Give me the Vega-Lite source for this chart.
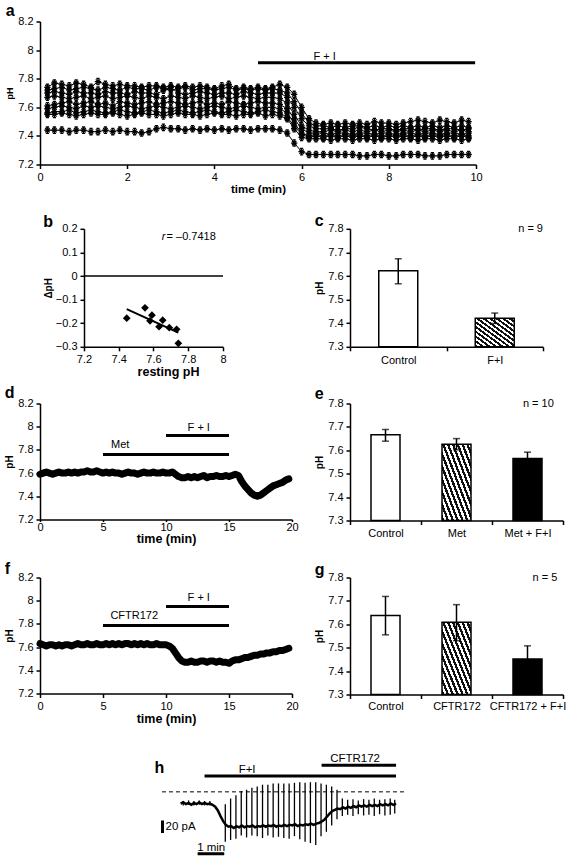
{
"$schema":"https://vega.github.io/schema/vega-lite/v6.json",
"background":"white",
"padding":{"left":4,"top":2.5,"right":0,"bottom":0},
"config":{"font":"Liberation Sans","view":{"stroke":null},
"axis":{"domainColor":"black","domainWidth":1.5,"tickColor":"black","tickWidth":1.5,"tickSize":4,"labelColor":"black","labelFontSize":11,"labelPadding":3,"titleColor":"black","grid":false,"titleFontWeight":"bold","labelFlush":false,"labelOverlap":false},
"title":{"fontSize":16,"fontWeight":"bold","anchor":"start","frame":"bounds","color":"black"},
"text":{"color":"black","fontSize":11}},
"datasets":{
"A":[
{"t":0.17,"a":7.74,"b":7.72,"c":7.70,"d":7.67,"e":7.61,"f":7.59,"g":7.56,"h":7.55,"i":7.44},
{"t":0.33,"a":7.77,"b":7.73,"c":7.71,"d":7.68,"e":7.62,"f":7.60,"g":7.57,"h":7.55,"i":7.44},
{"t":0.5,"a":7.76,"b":7.74,"c":7.70,"d":7.67,"e":7.63,"f":7.61,"g":7.57,"h":7.56,"i":7.44},
{"t":0.67,"a":7.75,"b":7.72,"c":7.69,"d":7.66,"e":7.64,"f":7.60,"g":7.58,"h":7.55,"i":7.43},
{"t":0.83,"a":7.77,"b":7.73,"c":7.71,"d":7.67,"e":7.62,"f":7.59,"g":7.56,"h":7.54,"i":7.44},
{"t":1,"a":7.76,"b":7.74,"c":7.70,"d":7.68,"e":7.63,"f":7.61,"g":7.57,"h":7.55,"i":7.44},
{"t":1.17,"a":7.74,"b":7.73,"c":7.70,"d":7.66,"e":7.64,"f":7.60,"g":7.58,"h":7.56,"i":7.43},
{"t":1.33,"a":7.78,"b":7.72,"c":7.69,"d":7.67,"e":7.62,"f":7.61,"g":7.57,"h":7.55,"i":7.43},
{"t":1.5,"a":7.76,"b":7.74,"c":7.71,"d":7.68,"e":7.63,"f":7.60,"g":7.56,"h":7.55,"i":7.44},
{"t":1.67,"a":7.75,"b":7.73,"c":7.70,"d":7.66,"e":7.61,"f":7.59,"g":7.57,"h":7.56,"i":7.43},
{"t":1.83,"a":7.76,"b":7.72,"c":7.70,"d":7.67,"e":7.64,"f":7.60,"g":7.58,"h":7.55,"i":7.44},
{"t":2,"a":7.75,"b":7.74,"c":7.69,"d":7.68,"e":7.63,"f":7.61,"g":7.57,"h":7.54,"i":7.43},
{"t":2.17,"a":7.75,"b":7.73,"c":7.71,"d":7.67,"e":7.62,"f":7.60,"g":7.56,"h":7.55,"i":7.43},
{"t":2.33,"a":7.74,"b":7.73,"c":7.70,"d":7.66,"e":7.63,"f":7.59,"g":7.57,"h":7.56,"i":7.42},
{"t":2.5,"a":7.75,"b":7.72,"c":7.70,"d":7.68,"e":7.64,"f":7.60,"g":7.58,"h":7.55,"i":7.43},
{"t":2.67,"a":7.75,"b":7.74,"c":7.69,"d":7.67,"e":7.62,"f":7.61,"g":7.57,"h":7.55,"i":7.45},
{"t":2.83,"a":7.74,"b":7.73,"c":7.72,"d":7.66,"e":7.63,"f":7.60,"g":7.56,"h":7.54,"i":7.46},
{"t":3,"a":7.75,"b":7.72,"c":7.74,"d":7.68,"e":7.64,"f":7.59,"g":7.57,"h":7.55,"i":7.45},
{"t":3.17,"a":7.74,"b":7.73,"c":7.70,"d":7.67,"e":7.63,"f":7.60,"g":7.58,"h":7.56,"i":7.45},
{"t":3.33,"a":7.75,"b":7.74,"c":7.69,"d":7.66,"e":7.62,"f":7.61,"g":7.57,"h":7.55,"i":7.44},
{"t":3.5,"a":7.74,"b":7.72,"c":7.70,"d":7.68,"e":7.63,"f":7.60,"g":7.56,"h":7.55,"i":7.45},
{"t":3.67,"a":7.75,"b":7.73,"c":7.71,"d":7.67,"e":7.64,"f":7.59,"g":7.57,"h":7.54,"i":7.44},
{"t":3.83,"a":7.74,"b":7.73,"c":7.70,"d":7.66,"e":7.62,"f":7.60,"g":7.58,"h":7.55,"i":7.45},
{"t":4,"a":7.73,"b":7.72,"c":7.69,"d":7.67,"e":7.63,"f":7.61,"g":7.57,"h":7.56,"i":7.44},
{"t":4.17,"a":7.75,"b":7.73,"c":7.70,"d":7.68,"e":7.62,"f":7.60,"g":7.56,"h":7.55,"i":7.45},
{"t":4.33,"a":7.76,"b":7.74,"c":7.70,"d":7.66,"e":7.64,"f":7.59,"g":7.57,"h":7.55,"i":7.44},
{"t":4.5,"a":7.73,"b":7.72,"c":7.69,"d":7.67,"e":7.63,"f":7.60,"g":7.58,"h":7.54,"i":7.45},
{"t":4.67,"a":7.74,"b":7.73,"c":7.71,"d":7.68,"e":7.62,"f":7.61,"g":7.57,"h":7.55,"i":7.45},
{"t":4.83,"a":7.73,"b":7.72,"c":7.70,"d":7.67,"e":7.63,"f":7.60,"g":7.56,"h":7.55,"i":7.44},
{"t":5,"a":7.74,"b":7.73,"c":7.69,"d":7.66,"e":7.64,"f":7.59,"g":7.57,"h":7.56,"i":7.45},
{"t":5.17,"a":7.73,"b":7.72,"c":7.70,"d":7.67,"e":7.63,"f":7.60,"g":7.58,"h":7.54,"i":7.45},
{"t":5.33,"a":7.74,"b":7.73,"c":7.70,"d":7.67,"e":7.63,"f":7.60,"g":7.57,"h":7.55,"i":7.45},
{"t":5.5,"a":7.76,"b":7.72,"c":7.70,"d":7.66,"e":7.62,"f":7.59,"g":7.56,"h":7.54,"i":7.44},
{"t":5.67,"a":7.74,"b":7.70,"c":7.67,"d":7.63,"e":7.59,"f":7.56,"g":7.53,"h":7.52,"i":7.42},
{"t":5.83,"a":7.69,"b":7.64,"c":7.60,"d":7.55,"e":7.52,"f":7.49,"g":7.47,"h":7.45,"i":7.35},
{"t":6,"a":7.60,"b":7.56,"c":7.52,"d":7.47,"e":7.45,"f":7.42,"g":7.41,"h":7.39,"i":7.29},
{"t":6.17,"a":7.52,"b":7.49,"c":7.47,"d":7.44,"e":7.42,"f":7.40,"g":7.39,"h":7.38,"i":7.27},
{"t":6.33,"a":7.49,"b":7.47,"c":7.45,"d":7.43,"e":7.42,"f":7.41,"g":7.40,"h":7.38,"i":7.27},
{"t":6.5,"a":7.48,"b":7.47,"c":7.45,"d":7.43,"e":7.42,"f":7.40,"g":7.39,"h":7.38,"i":7.27},
{"t":6.67,"a":7.49,"b":7.46,"c":7.45,"d":7.44,"e":7.41,"f":7.41,"g":7.40,"h":7.37,"i":7.27},
{"t":6.83,"a":7.48,"b":7.47,"c":7.44,"d":7.43,"e":7.42,"f":7.40,"g":7.39,"h":7.38,"i":7.27},
{"t":7,"a":7.49,"b":7.46,"c":7.45,"d":7.44,"e":7.42,"f":7.41,"g":7.40,"h":7.38,"i":7.27},
{"t":7.17,"a":7.48,"b":7.47,"c":7.45,"d":7.43,"e":7.41,"f":7.40,"g":7.39,"h":7.37,"i":7.27},
{"t":7.33,"a":7.49,"b":7.47,"c":7.46,"d":7.44,"e":7.42,"f":7.41,"g":7.40,"h":7.38,"i":7.26},
{"t":7.5,"a":7.48,"b":7.46,"c":7.45,"d":7.43,"e":7.42,"f":7.40,"g":7.39,"h":7.38,"i":7.26},
{"t":7.67,"a":7.50,"b":7.47,"c":7.44,"d":7.44,"e":7.41,"f":7.41,"g":7.40,"h":7.37,"i":7.27},
{"t":7.83,"a":7.49,"b":7.46,"c":7.45,"d":7.43,"e":7.42,"f":7.40,"g":7.39,"h":7.38,"i":7.27},
{"t":8,"a":7.49,"b":7.47,"c":7.45,"d":7.44,"e":7.42,"f":7.41,"g":7.40,"h":7.38,"i":7.26},
{"t":8.17,"a":7.48,"b":7.46,"c":7.44,"d":7.43,"e":7.41,"f":7.40,"g":7.39,"h":7.37,"i":7.26},
{"t":8.33,"a":7.49,"b":7.47,"c":7.45,"d":7.44,"e":7.42,"f":7.41,"g":7.40,"h":7.38,"i":7.27},
{"t":8.5,"a":7.50,"b":7.46,"c":7.45,"d":7.43,"e":7.42,"f":7.40,"g":7.39,"h":7.38,"i":7.27},
{"t":8.67,"a":7.51,"b":7.47,"c":7.44,"d":7.44,"e":7.41,"f":7.41,"g":7.40,"h":7.37,"i":7.27},
{"t":8.83,"a":7.50,"b":7.46,"c":7.45,"d":7.43,"e":7.42,"f":7.40,"g":7.39,"h":7.38,"i":7.26},
{"t":9,"a":7.49,"b":7.47,"c":7.45,"d":7.44,"e":7.42,"f":7.41,"g":7.40,"h":7.38,"i":7.26},
{"t":9.17,"a":7.51,"b":7.46,"c":7.44,"d":7.43,"e":7.41,"f":7.40,"g":7.39,"h":7.37,"i":7.26},
{"t":9.33,"a":7.50,"b":7.47,"c":7.45,"d":7.44,"e":7.42,"f":7.41,"g":7.40,"h":7.38,"i":7.27},
{"t":9.5,"a":7.49,"b":7.46,"c":7.45,"d":7.43,"e":7.42,"f":7.40,"g":7.39,"h":7.38,"i":7.27},
{"t":9.67,"a":7.51,"b":7.47,"c":7.44,"d":7.44,"e":7.41,"f":7.41,"g":7.40,"h":7.37,"i":7.27},
{"t":9.83,"a":7.50,"b":7.46,"c":7.45,"d":7.43,"e":7.42,"f":7.40,"g":7.39,"h":7.38,"i":7.27}
],
"B":[{"x":7.446,"y":-0.179},{"x":7.551,"y":-0.135},{"x":7.580,"y":-0.190},{"x":7.591,"y":-0.166},{"x":7.632,"y":-0.215},{"x":7.653,"y":-0.187},{"x":7.691,"y":-0.219},{"x":7.733,"y":-0.226},{"x":7.743,"y":-0.285}],
"C":[{"g":"Control","v":7.622,"lo":7.567,"hi":7.673},{"g":"F+I","v":7.421,"lo":7.399,"hi":7.443}],
"E":[{"g":"Control","v":7.666,"lo":7.639,"hi":7.689},{"g":"Met","v":7.626,"lo":7.602,"hi":7.650},{"g":"Met + F+I","v":7.565,"lo":7.539,"hi":7.592}],
"G":[{"g":"Control","v":7.638,"lo":7.555,"hi":7.719},{"g":"CFTR172","v":7.609,"lo":7.530,"hi":7.684},{"g":"CFTR172 + F+I","v":7.452,"lo":7.395,"hi":7.508}],
"D":[
{"t":0,"v":7.59},{"t":0.25,"v":7.60},{"t":0.5,"v":7.61},{"t":0.75,"v":7.60},{"t":1,"v":7.59},{"t":1.25,"v":7.60},{"t":1.5,"v":7.61},{"t":1.75,"v":7.60},
{"t":2,"v":7.60},{"t":2.25,"v":7.61},{"t":2.5,"v":7.60},{"t":2.75,"v":7.61},{"t":3,"v":7.60},{"t":3.25,"v":7.61},{"t":3.5,"v":7.61},{"t":3.75,"v":7.62},
{"t":4,"v":7.61},{"t":4.25,"v":7.61},{"t":4.5,"v":7.62},{"t":4.75,"v":7.61},{"t":5,"v":7.60},{"t":5.25,"v":7.61},{"t":5.5,"v":7.60},{"t":5.75,"v":7.61},
{"t":6,"v":7.60},{"t":6.25,"v":7.60},{"t":6.5,"v":7.59},{"t":6.75,"v":7.60},{"t":7,"v":7.61},{"t":7.25,"v":7.60},{"t":7.5,"v":7.60},{"t":7.75,"v":7.59},
{"t":8,"v":7.60},{"t":8.25,"v":7.61},{"t":8.5,"v":7.60},{"t":8.75,"v":7.60},{"t":9,"v":7.61},{"t":9.25,"v":7.60},{"t":9.5,"v":7.60},{"t":9.75,"v":7.61},
{"t":10,"v":7.60},{"t":10.25,"v":7.60},{"t":10.5,"v":7.61},{"t":10.75,"v":7.59},{"t":11,"v":7.57},{"t":11.25,"v":7.56},{"t":11.5,"v":7.56},{"t":11.75,"v":7.57},
{"t":12,"v":7.56},{"t":12.25,"v":7.57},{"t":12.5,"v":7.56},{"t":12.75,"v":7.57},{"t":13,"v":7.58},{"t":13.25,"v":7.56},{"t":13.5,"v":7.57},{"t":13.75,"v":7.57},
{"t":14,"v":7.58},{"t":14.25,"v":7.57},{"t":14.5,"v":7.57},{"t":14.75,"v":7.58},{"t":15,"v":7.57},{"t":15.25,"v":7.58},{"t":15.5,"v":7.59},{"t":15.75,"v":7.58},
{"t":16,"v":7.53},{"t":16.25,"v":7.49},{"t":16.5,"v":7.46},{"t":16.75,"v":7.43},{"t":17,"v":7.41},{"t":17.25,"v":7.40},{"t":17.5,"v":7.41},{"t":17.75,"v":7.43},
{"t":18,"v":7.45},{"t":18.25,"v":7.47},{"t":18.5,"v":7.49},{"t":18.75,"v":7.50},{"t":19,"v":7.51},{"t":19.25,"v":7.52},{"t":19.5,"v":7.54},{"t":19.75,"v":7.55}
],
"F":[
{"t":0,"v":7.63},{"t":0.25,"v":7.62},{"t":0.5,"v":7.61},{"t":0.75,"v":7.62},{"t":1,"v":7.62},{"t":1.25,"v":7.61},{"t":1.5,"v":7.62},{"t":1.75,"v":7.61},
{"t":2,"v":7.62},{"t":2.25,"v":7.62},{"t":2.5,"v":7.61},{"t":2.75,"v":7.62},{"t":3,"v":7.63},{"t":3.25,"v":7.62},{"t":3.5,"v":7.62},{"t":3.75,"v":7.63},
{"t":4,"v":7.62},{"t":4.25,"v":7.62},{"t":4.5,"v":7.63},{"t":4.75,"v":7.62},{"t":5,"v":7.62},{"t":5.25,"v":7.63},{"t":5.5,"v":7.62},{"t":5.75,"v":7.63},
{"t":6,"v":7.62},{"t":6.25,"v":7.63},{"t":6.5,"v":7.62},{"t":6.75,"v":7.63},{"t":7,"v":7.63},{"t":7.25,"v":7.62},{"t":7.5,"v":7.63},{"t":7.75,"v":7.62},
{"t":8,"v":7.63},{"t":8.25,"v":7.62},{"t":8.5,"v":7.63},{"t":8.75,"v":7.62},{"t":9,"v":7.62},{"t":9.25,"v":7.63},{"t":9.5,"v":7.62},{"t":9.75,"v":7.62},
{"t":10,"v":7.62},{"t":10.25,"v":7.61},{"t":10.5,"v":7.59},{"t":10.75,"v":7.55},{"t":11,"v":7.51},{"t":11.25,"v":7.48},{"t":11.5,"v":7.47},{"t":11.75,"v":7.47},
{"t":12,"v":7.48},{"t":12.25,"v":7.47},{"t":12.5,"v":7.47},{"t":12.75,"v":7.48},{"t":13,"v":7.48},{"t":13.25,"v":7.47},{"t":13.5,"v":7.48},{"t":13.75,"v":7.48},
{"t":14,"v":7.47},{"t":14.25,"v":7.48},{"t":14.5,"v":7.47},{"t":14.75,"v":7.47},{"t":15,"v":7.46},{"t":15.25,"v":7.48},{"t":15.5,"v":7.49},{"t":15.75,"v":7.49},
{"t":16,"v":7.50},{"t":16.25,"v":7.51},{"t":16.5,"v":7.51},{"t":16.75,"v":7.52},{"t":17,"v":7.53},{"t":17.25,"v":7.53},{"t":17.5,"v":7.54},{"t":17.75,"v":7.54},
{"t":18,"v":7.55},{"t":18.25,"v":7.55},{"t":18.5,"v":7.56},{"t":18.75,"v":7.56},{"t":19,"v":7.57},{"t":19.25,"v":7.57},{"t":19.5,"v":7.58},{"t":19.75,"v":7.59}
],
"HL":[
{"t":0,"i":0},{"t":0.1,"i":2},{"t":0.2,"i":-1},{"t":0.3,"i":1},{"t":0.4,"i":-2},{"t":0.5,"i":1},{"t":0.6,"i":-1},{"t":0.7,"i":2},{"t":0.8,"i":-1},{"t":0.9,"i":1},
{"t":1.0,"i":-1},{"t":1.1,"i":0},{"t":1.2,"i":-2},{"t":1.3,"i":-5},{"t":1.4,"i":-11},{"t":1.5,"i":-20},{"t":1.6,"i":-28},{"t":1.7,"i":-34},{"t":1.8,"i":-37},{"t":1.9,"i":-36},
{"t":2.0,"i":-39},{"t":2.1,"i":-36},{"t":2.2,"i":-38},{"t":2.3,"i":-35},{"t":2.4,"i":-38},{"t":2.5,"i":-36},{"t":2.6,"i":-37},{"t":2.7,"i":-35},{"t":2.8,"i":-38},{"t":2.9,"i":-36},
{"t":3.0,"i":-37},{"t":3.1,"i":-35},{"t":3.2,"i":-37},{"t":3.3,"i":-35},{"t":3.4,"i":-36},{"t":3.5,"i":-34},{"t":3.6,"i":-37},{"t":3.7,"i":-35},{"t":3.8,"i":-36},{"t":3.9,"i":-34},
{"t":4.0,"i":-36},{"t":4.1,"i":-34},{"t":4.2,"i":-35},{"t":4.3,"i":-33},{"t":4.4,"i":-36},{"t":4.5,"i":-34},{"t":4.6,"i":-35},{"t":4.7,"i":-33},{"t":4.8,"i":-34},{"t":4.9,"i":-32},
{"t":5.0,"i":-34},{"t":5.1,"i":-32},{"t":5.2,"i":-31},{"t":5.3,"i":-29},{"t":5.4,"i":-26},{"t":5.5,"i":-21},{"t":5.6,"i":-16},{"t":5.7,"i":-12},{"t":5.8,"i":-10},{"t":5.9,"i":-8},
{"t":6.0,"i":-9},{"t":6.1,"i":-6},{"t":6.2,"i":-8},{"t":6.3,"i":-5},{"t":6.4,"i":-7},{"t":6.5,"i":-4},{"t":6.6,"i":-6},{"t":6.7,"i":-3},{"t":6.8,"i":-5},{"t":6.9,"i":-3},
{"t":7.0,"i":-5},{"t":7.1,"i":-2},{"t":7.2,"i":-4},{"t":7.3,"i":-2},{"t":7.4,"i":-4},{"t":7.5,"i":-1},{"t":7.6,"i":-3},{"t":7.7,"i":-1},{"t":7.8,"i":-3},{"t":7.9,"i":0},
{"t":8.0,"i":-2},{"t":8.1,"i":0}
],
"HS":[
{"t":0.1,"lo":-3,"hi":4},{"t":0.3,"lo":-2,"hi":5},{"t":0.5,"lo":-3,"hi":4},{"t":0.7,"lo":-2,"hi":5},{"t":0.9,"lo":-3,"hi":4},{"t":1.1,"lo":-3,"hi":4},
{"t":1.68,"lo":-61,"hi":-1},{"t":1.88,"lo":-58,"hi":8},{"t":2.08,"lo":-56,"hi":13},{"t":2.28,"lo":-51,"hi":20},{"t":2.48,"lo":-54,"hi":22},{"t":2.68,"lo":-51,"hi":25},
{"t":2.88,"lo":-52,"hi":27},{"t":3.08,"lo":-55,"hi":30},{"t":3.28,"lo":-51,"hi":30},{"t":3.48,"lo":-54,"hi":32},{"t":3.68,"lo":-53,"hi":32},{"t":3.88,"lo":-55,"hi":32},
{"t":4.08,"lo":-56,"hi":32},{"t":4.28,"lo":-52,"hi":33},{"t":4.48,"lo":-57,"hi":34},{"t":4.68,"lo":-61,"hi":33},{"t":4.88,"lo":-63,"hi":34},{"t":5.08,"lo":-66,"hi":34},
{"t":5.28,"lo":-52,"hi":32},{"t":5.48,"lo":-45,"hi":30},{"t":5.68,"lo":-35,"hi":27},{"t":5.88,"lo":-25,"hi":22},
{"t":6.08,"lo":-20,"hi":8},{"t":6.28,"lo":-18,"hi":6},{"t":6.48,"lo":-20,"hi":7},{"t":6.68,"lo":-17,"hi":5},{"t":6.88,"lo":-19,"hi":7},{"t":7.08,"lo":-18,"hi":6},
{"t":7.28,"lo":-20,"hi":8},{"t":7.48,"lo":-17,"hi":6},{"t":7.68,"lo":-19,"hi":7},{"t":7.88,"lo":-18,"hi":8},{"t":8.05,"lo":-16,"hi":6}
]
},
"spacing":17.3,
"vconcat":[
{
"width":436,"height":143,
"title":{"text":"a","offset":-3.7},
"layer":[
{"data":{"name":"A"},"transform":[{"fold":["a","b","c","d","e","f","g","h","i"],"as":["s","v"]}],
"mark":{"type":"line","color":"black","strokeWidth":1},
"encoding":{"x":{"field":"t","type":"quantitative","scale":{"domain":[0,10]},"axis":{"values":[0,2,4,6,8,10],"tickCount":20,"format":"~g","title":"time (min)","titleFontSize":11.5,"titlePadding":1}},
"y":{"field":"v","type":"quantitative","scale":{"domain":[7.2,8.2]},"axis":{"values":[7.2,7.4,7.6,7.8,8,8.2],"tickCount":20,"format":"~g","title":"pH","titleFontSize":9,"titlePadding":3}},
"detail":{"field":"s"}}},
{"data":{"name":"A"},"transform":[{"fold":["a","b","c","d","e","f","g","h","i"],"as":["s","v"]}],
"mark":{"type":"point","shape":"M-1,0L1,0M0,-1L0,1M-0.7,-0.7L0.7,0.7M-0.7,0.7L0.7,-0.7M-0.5,-1L0.5,-1M-0.5,1L0.5,1","size":40,"filled":false,"color":"black","strokeWidth":1.3,"opacity":1},
"encoding":{"x":{"field":"t","type":"quantitative"},"y":{"field":"v","type":"quantitative"},"detail":{"field":"s"}}},
{"data":{"values":[{"x1":5,"x2":9.98,"y":7.911}]},"mark":{"type":"rule","color":"black","strokeWidth":3},
"encoding":{"x":{"field":"x1","type":"quantitative"},"x2":{"field":"x2"},"y":{"field":"y","type":"quantitative"}}},
{"data":{"values":[{"x":6.53,"y":7.955,"s":"F + I"}]},"mark":{"type":"text","fontSize":11},
"encoding":{"x":{"field":"x","type":"quantitative"},"y":{"field":"y","type":"quantitative"},"text":{"field":"s"}}}
]
},
{
"spacing":21.5,
"vconcat":[
{
"spacing":14.7,
"vconcat":[
{
"spacing":5.7,
"vconcat":[
{
"spacing":0,
"hconcat":[
{"width":3,"height":1,"data":{"values":[{}]},"mark":{"type":"text","text":""},"encoding":{}},
{
"width":139,"height":118,
"title":{"text":"b","offset":-7},
"data":{"values":[{}]},
"layer":[
{"mark":{"type":"rule","color":"black","strokeWidth":1.5},"encoding":{"y":{"datum":0,"type":"quantitative","scale":{"domain":[-0.3,0.2]},"axis":{"values":[-0.3,-0.2,-0.1,0,0.1,0.2],"tickCount":20,"format":"~g","title":"ΔpH","titleFontSize":10,"titlePadding":2}}}},
{"data":{"name":"B"},"mark":{"type":"point","shape":"diamond","filled":true,"color":"black","size":60,"opacity":1},
"encoding":{"x":{"field":"x","type":"quantitative","scale":{"domain":[7.2,8]},"axis":{"values":[7.2,7.4,7.6,7.8,8],"tickCount":20,"format":"~g","title":"resting pH","titleFontSize":12.5,"titlePadding":1,"titleX":84}},"y":{"field":"y","type":"quantitative"}}},
{"data":{"name":"B"},"transform":[{"regression":"y","on":"x"}],"mark":{"type":"line","color":"black","strokeWidth":2},
"encoding":{"x":{"field":"x","type":"quantitative"},"y":{"field":"y","type":"quantitative"}}},
{"mark":{"type":"text","fontStyle":"italic","align":"right","fontSize":11},"encoding":{"x":{"datum":7.668},"y":{"datum":0.166},"text":{"value":"r"}}},
{"mark":{"type":"text","align":"left","fontSize":11},"encoding":{"x":{"datum":7.675},"y":{"datum":0.166},"text":{"value":"= –0.7418"}}}
]
},
{"width":87,"height":1,"data":{"values":[{}]},"mark":{"type":"text","text":""},"encoding":{}},
{
"width":193,"height":118,
"title":{"text":"c","offset":-6},
"data":{"name":"C"},
"layer":[
{"mark":{"type":"bar","stroke":"black","strokeWidth":1.5,"size":39},
"encoding":{"x":{"field":"g","type":"nominal","sort":null,"scale":{"paddingInner":0,"paddingOuter":0},"axis":{"title":null,"labelAngle":0,"tickBand":"extent","labelPadding":4}},
"y":{"field":"v","type":"quantitative","scale":{"domain":[7.3,7.8],"zero":false},"axis":{"values":[7.3,7.4,7.5,7.6,7.7,7.8],"tickCount":20,"format":"~g","title":"pH","titleFontSize":10,"titlePadding":3}},
"y2":{"datum":7.3},
"fill":{"condition":[{"test":"datum.g==='F+I'","value":{"gradient":"linear","x1":0,"y1":1,"x2":1,"y2":0,"stops":[{"offset":0,"color":"#111"},{"offset":0.0417,"color":"#111"},{"offset":0.0417,"color":"#fff"},{"offset":0.0833,"color":"#fff"},{"offset":0.0833,"color":"#111"},{"offset":0.125,"color":"#111"},{"offset":0.125,"color":"#fff"},{"offset":0.1667,"color":"#fff"},{"offset":0.1667,"color":"#111"},{"offset":0.2083,"color":"#111"},{"offset":0.2083,"color":"#fff"},{"offset":0.25,"color":"#fff"},{"offset":0.25,"color":"#111"},{"offset":0.2917,"color":"#111"},{"offset":0.2917,"color":"#fff"},{"offset":0.3333,"color":"#fff"},{"offset":0.3333,"color":"#111"},{"offset":0.375,"color":"#111"},{"offset":0.375,"color":"#fff"},{"offset":0.4167,"color":"#fff"},{"offset":0.4167,"color":"#111"},{"offset":0.4583,"color":"#111"},{"offset":0.4583,"color":"#fff"},{"offset":0.5,"color":"#fff"},{"offset":0.5,"color":"#111"},{"offset":0.5417,"color":"#111"},{"offset":0.5417,"color":"#fff"},{"offset":0.5833,"color":"#fff"},{"offset":0.5833,"color":"#111"},{"offset":0.625,"color":"#111"},{"offset":0.625,"color":"#fff"},{"offset":0.6667,"color":"#fff"},{"offset":0.6667,"color":"#111"},{"offset":0.7083,"color":"#111"},{"offset":0.7083,"color":"#fff"},{"offset":0.75,"color":"#fff"},{"offset":0.75,"color":"#111"},{"offset":0.7917,"color":"#111"},{"offset":0.7917,"color":"#fff"},{"offset":0.8333,"color":"#fff"},{"offset":0.8333,"color":"#111"},{"offset":0.875,"color":"#111"},{"offset":0.875,"color":"#fff"},{"offset":0.9167,"color":"#fff"},{"offset":0.9167,"color":"#111"},{"offset":0.9583,"color":"#111"},{"offset":0.9583,"color":"#fff"},{"offset":1,"color":"#fff"}]}}],"value":"white"}}},
{"mark":{"type":"rule","color":"black","strokeWidth":1.5},"encoding":{"x":{"field":"g","type":"nominal","sort":null},"y":{"field":"lo","type":"quantitative"},"y2":{"field":"hi"}}},
{"mark":{"type":"tick","color":"black","thickness":1.5,"size":7},"encoding":{"x":{"field":"g","type":"nominal","sort":null},"y":{"field":"lo","type":"quantitative"}}},
{"mark":{"type":"tick","color":"black","thickness":1.5,"size":7},"encoding":{"x":{"field":"g","type":"nominal","sort":null},"y":{"field":"hi","type":"quantitative"}}},
{"transform":[{"filter":"datum.g==='F+I'"}],"mark":{"type":"text","align":"right","baseline":"middle","fontSize":11},"encoding":{"x":{"field":"g","type":"nominal","sort":null,"bandPosition":1},"y":{"datum":7.8},"text":{"value":"n = 9"}}}
]
}
]
},
{
"spacing":15,
"hconcat":[
{
"width":252,"height":116,
"title":{"text":"d","offset":-3.7},
"layer":[
{"data":{"name":"D"},"mark":{"type":"line","color":"black","strokeWidth":7,"strokeJoin":"round","strokeCap":"round"},
"encoding":{"x":{"field":"t","type":"quantitative","scale":{"domain":[0,20]},"axis":{"values":[0,5,10,15,20],"tickCount":20,"format":"~g","tickSize":2,"labelPadding":0,"title":"time (min)","titleFontSize":12.5,"titlePadding":0}},
"y":{"field":"v","type":"quantitative","scale":{"domain":[7.2,8.2]},"axis":{"values":[7.2,7.4,7.6,7.8,8,8.2],"tickCount":20,"format":"~g","title":"pH","titleFontSize":10,"titlePadding":3}}}},
{"data":{"values":[{"x1":5,"x2":15,"y":7.76},{"x1":10,"x2":15,"y":7.924}]},"mark":{"type":"rule","color":"black","strokeWidth":3},
"encoding":{"x":{"field":"x1","type":"quantitative"},"x2":{"field":"x2"},"y":{"field":"y","type":"quantitative"}}},
{"data":{"values":[{"x":6.36,"y":7.84,"s":"Met"},{"x":12.6,"y":7.99,"s":"F + I"}]},"mark":{"type":"text","fontSize":11},
"encoding":{"x":{"field":"x","type":"quantitative"},"y":{"field":"y","type":"quantitative"},"text":{"field":"s"}}}
]
},
{
"width":213,"height":117,
"title":{"text":"e","offset":-4},
"data":{"name":"E"},
"layer":[
{"mark":{"type":"bar","stroke":"black","strokeWidth":1.5,"size":29},
"encoding":{"x":{"field":"g","type":"nominal","sort":null,"scale":{"paddingInner":0,"paddingOuter":0},"axis":{"title":null,"labelAngle":0,"tickBand":"extent","labelPadding":3}},
"y":{"field":"v","type":"quantitative","scale":{"domain":[7.3,7.8],"zero":false},"axis":{"values":[7.3,7.4,7.5,7.6,7.7,7.8],"tickCount":20,"format":"~g","title":"pH","titleFontSize":10,"titlePadding":3}},
"y2":{"datum":7.3},
"fill":{"condition":[{"test":"datum.g==='Met'","value":{"gradient":"linear","x1":0,"y1":1,"x2":1,"y2":0,"stops":[{"offset":0,"color":"#111"},{"offset":0.0417,"color":"#111"},{"offset":0.0417,"color":"#fff"},{"offset":0.0833,"color":"#fff"},{"offset":0.0833,"color":"#111"},{"offset":0.125,"color":"#111"},{"offset":0.125,"color":"#fff"},{"offset":0.1667,"color":"#fff"},{"offset":0.1667,"color":"#111"},{"offset":0.2083,"color":"#111"},{"offset":0.2083,"color":"#fff"},{"offset":0.25,"color":"#fff"},{"offset":0.25,"color":"#111"},{"offset":0.2917,"color":"#111"},{"offset":0.2917,"color":"#fff"},{"offset":0.3333,"color":"#fff"},{"offset":0.3333,"color":"#111"},{"offset":0.375,"color":"#111"},{"offset":0.375,"color":"#fff"},{"offset":0.4167,"color":"#fff"},{"offset":0.4167,"color":"#111"},{"offset":0.4583,"color":"#111"},{"offset":0.4583,"color":"#fff"},{"offset":0.5,"color":"#fff"},{"offset":0.5,"color":"#111"},{"offset":0.5417,"color":"#111"},{"offset":0.5417,"color":"#fff"},{"offset":0.5833,"color":"#fff"},{"offset":0.5833,"color":"#111"},{"offset":0.625,"color":"#111"},{"offset":0.625,"color":"#fff"},{"offset":0.6667,"color":"#fff"},{"offset":0.6667,"color":"#111"},{"offset":0.7083,"color":"#111"},{"offset":0.7083,"color":"#fff"},{"offset":0.75,"color":"#fff"},{"offset":0.75,"color":"#111"},{"offset":0.7917,"color":"#111"},{"offset":0.7917,"color":"#fff"},{"offset":0.8333,"color":"#fff"},{"offset":0.8333,"color":"#111"},{"offset":0.875,"color":"#111"},{"offset":0.875,"color":"#fff"},{"offset":0.9167,"color":"#fff"},{"offset":0.9167,"color":"#111"},{"offset":0.9583,"color":"#111"},{"offset":0.9583,"color":"#fff"},{"offset":1,"color":"#fff"}]}},{"test":"datum.g==='Met + F+I'","value":"black"}],"value":"white"}}},
{"mark":{"type":"rule","color":"black","strokeWidth":1.5},"encoding":{"x":{"field":"g","type":"nominal","sort":null},"y":{"field":"lo","type":"quantitative"},"y2":{"field":"hi"}}},
{"mark":{"type":"tick","color":"black","thickness":1.5,"size":7},"encoding":{"x":{"field":"g","type":"nominal","sort":null},"y":{"field":"lo","type":"quantitative"}}},
{"mark":{"type":"tick","color":"black","thickness":1.5,"size":7},"encoding":{"x":{"field":"g","type":"nominal","sort":null},"y":{"field":"hi","type":"quantitative"}}},
{"transform":[{"filter":"datum.g==='Met + F+I'"}],"mark":{"type":"text","align":"right","baseline":"middle","fontSize":11},"encoding":{"x":{"field":"g","type":"nominal","sort":null,"bandPosition":0.87},"y":{"datum":7.8},"text":{"value":"n = 10"}}}
]
}
]
}
]
},
{
"spacing":15,
"hconcat":[
{
"width":252,"height":116,
"title":{"text":"f","offset":-5.7},
"layer":[
{"data":{"name":"F"},"mark":{"type":"line","color":"black","strokeWidth":7,"strokeJoin":"round","strokeCap":"round"},
"encoding":{"x":{"field":"t","type":"quantitative","scale":{"domain":[0,20]},"axis":{"values":[0,5,10,15,20],"tickCount":20,"format":"~g","title":"time (min)","titleFontSize":12.5,"titlePadding":1}},
"y":{"field":"v","type":"quantitative","scale":{"domain":[7.2,8.2]},"axis":{"values":[7.2,7.4,7.6,7.8,8,8.2],"tickCount":20,"format":"~g","title":"pH","titleFontSize":10,"titlePadding":3}}}},
{"data":{"values":[{"x1":5,"x2":15,"y":7.786},{"x1":10,"x2":15,"y":7.95}]},"mark":{"type":"rule","color":"black","strokeWidth":3},
"encoding":{"x":{"field":"x1","type":"quantitative"},"x2":{"field":"x2"},"y":{"field":"y","type":"quantitative"}}},
{"data":{"values":[{"x":7.48,"y":7.864,"s":"CFTR172"},{"x":12.6,"y":8.02,"s":"F + I"}]},"mark":{"type":"text","fontSize":11},
"encoding":{"x":{"field":"x","type":"quantitative"},"y":{"field":"y","type":"quantitative"},"text":{"field":"s"}}}
]
},
{
"width":213,"height":117,
"title":{"text":"g","offset":-6.5},
"data":{"name":"G"},
"layer":[
{"mark":{"type":"bar","stroke":"black","strokeWidth":1.5,"size":29},
"encoding":{"x":{"field":"g","type":"nominal","sort":null,"scale":{"paddingInner":0,"paddingOuter":0},"axis":{"title":null,"labelAngle":0,"tickBand":"extent","labelPadding":2}},
"y":{"field":"v","type":"quantitative","scale":{"domain":[7.3,7.8],"zero":false},"axis":{"values":[7.3,7.4,7.5,7.6,7.7,7.8],"tickCount":20,"format":"~g","title":"pH","titleFontSize":10,"titlePadding":3}},
"y2":{"datum":7.3},
"fill":{"condition":[{"test":"datum.g==='CFTR172'","value":{"gradient":"linear","x1":0,"y1":1,"x2":1,"y2":0,"stops":[{"offset":0,"color":"#111"},{"offset":0.0417,"color":"#111"},{"offset":0.0417,"color":"#fff"},{"offset":0.0833,"color":"#fff"},{"offset":0.0833,"color":"#111"},{"offset":0.125,"color":"#111"},{"offset":0.125,"color":"#fff"},{"offset":0.1667,"color":"#fff"},{"offset":0.1667,"color":"#111"},{"offset":0.2083,"color":"#111"},{"offset":0.2083,"color":"#fff"},{"offset":0.25,"color":"#fff"},{"offset":0.25,"color":"#111"},{"offset":0.2917,"color":"#111"},{"offset":0.2917,"color":"#fff"},{"offset":0.3333,"color":"#fff"},{"offset":0.3333,"color":"#111"},{"offset":0.375,"color":"#111"},{"offset":0.375,"color":"#fff"},{"offset":0.4167,"color":"#fff"},{"offset":0.4167,"color":"#111"},{"offset":0.4583,"color":"#111"},{"offset":0.4583,"color":"#fff"},{"offset":0.5,"color":"#fff"},{"offset":0.5,"color":"#111"},{"offset":0.5417,"color":"#111"},{"offset":0.5417,"color":"#fff"},{"offset":0.5833,"color":"#fff"},{"offset":0.5833,"color":"#111"},{"offset":0.625,"color":"#111"},{"offset":0.625,"color":"#fff"},{"offset":0.6667,"color":"#fff"},{"offset":0.6667,"color":"#111"},{"offset":0.7083,"color":"#111"},{"offset":0.7083,"color":"#fff"},{"offset":0.75,"color":"#fff"},{"offset":0.75,"color":"#111"},{"offset":0.7917,"color":"#111"},{"offset":0.7917,"color":"#fff"},{"offset":0.8333,"color":"#fff"},{"offset":0.8333,"color":"#111"},{"offset":0.875,"color":"#111"},{"offset":0.875,"color":"#fff"},{"offset":0.9167,"color":"#fff"},{"offset":0.9167,"color":"#111"},{"offset":0.9583,"color":"#111"},{"offset":0.9583,"color":"#fff"},{"offset":1,"color":"#fff"}]}},{"test":"datum.g==='CFTR172 + F+I'","value":"black"}],"value":"white"}}},
{"mark":{"type":"rule","color":"black","strokeWidth":1.5},"encoding":{"x":{"field":"g","type":"nominal","sort":null},"y":{"field":"lo","type":"quantitative"},"y2":{"field":"hi"}}},
{"mark":{"type":"tick","color":"black","thickness":1.5,"size":7},"encoding":{"x":{"field":"g","type":"nominal","sort":null},"y":{"field":"lo","type":"quantitative"}}},
{"mark":{"type":"tick","color":"black","thickness":1.5,"size":7},"encoding":{"x":{"field":"g","type":"nominal","sort":null},"y":{"field":"hi","type":"quantitative"}}},
{"transform":[{"filter":"datum.g==='CFTR172 + F+I'"}],"mark":{"type":"text","align":"right","baseline":"middle","fontSize":11},"encoding":{"x":{"field":"g","type":"nominal","sort":null,"bandPosition":0.92},"y":{"datum":7.8},"text":{"value":"n = 5"}}}
]
}
]
}
]
},
{
"spacing":0,
"hconcat":[
{"width":114,"height":1,"data":{"values":[{}]},"mark":{"type":"text","text":""},"encoding":{}},
{
"width":266,"height":113,
"layer":[
{"data":{"name":"HL"},"mark":{"type":"line","color":"black","strokeWidth":2.5},
"encoding":{"x":{"field":"t","type":"quantitative","scale":{"domain":[-1,8.5]},"axis":null},"y":{"field":"i","type":"quantitative","scale":{"domain":[-82,80]},"axis":null}}},
{"data":{"name":"HS"},"mark":{"type":"rule","color":"black","strokeWidth":1.3},
"encoding":{"x":{"field":"t","type":"quantitative","axis":null},"y":{"field":"lo","type":"quantitative","axis":null},"y2":{"field":"hi"}}},
{"data":{"values":[{"x1":-0.7,"x2":8.46,"y":18.6}]},"mark":{"type":"rule","color":"black","strokeWidth":1,"strokeDash":[4,3]},
"encoding":{"x":{"field":"x1","type":"quantitative","axis":null},"x2":{"field":"x2"},"y":{"field":"y","type":"quantitative","axis":null}}},
{"data":{"values":[{"x1":0.9,"x2":8.1,"y1":44,"y2":44},{"x1":5.3,"x2":8.1,"y1":61,"y2":61},{"x1":-0.68,"x2":-0.68,"y1":-27,"y2":-47},{"x1":0.64,"x2":1.64,"y1":-80,"y2":-80}]},"mark":{"type":"rule","color":"black","strokeWidth":3},
"encoding":{"x":{"field":"x1","type":"quantitative","axis":null},"x2":{"field":"x2"},"y":{"field":"y1","type":"quantitative","axis":null},"y2":{"field":"y2"}}},
{"data":{"values":[{"x":2.5,"y":54,"s":"F+I"},{"x":6.56,"y":71,"s":"CFTR172"},{"x":0.0,"y":-37,"s":"20 pA"},{"x":1.15,"y":-71,"s":"1 min"}]},"mark":{"type":"text","fontSize":11.5},
"encoding":{"x":{"field":"x","type":"quantitative","axis":null},"y":{"field":"y","type":"quantitative","axis":null},"text":{"field":"s"}}},
{"data":{"values":[{"x":-0.8,"y":57,"s":"h"}]},"mark":{"type":"text","fontSize":16,"fontWeight":"bold"},
"encoding":{"x":{"field":"x","type":"quantitative","axis":null},"y":{"field":"y","type":"quantitative","axis":null},"text":{"field":"s"}}}
]
}
]
}
]
}
]
}
